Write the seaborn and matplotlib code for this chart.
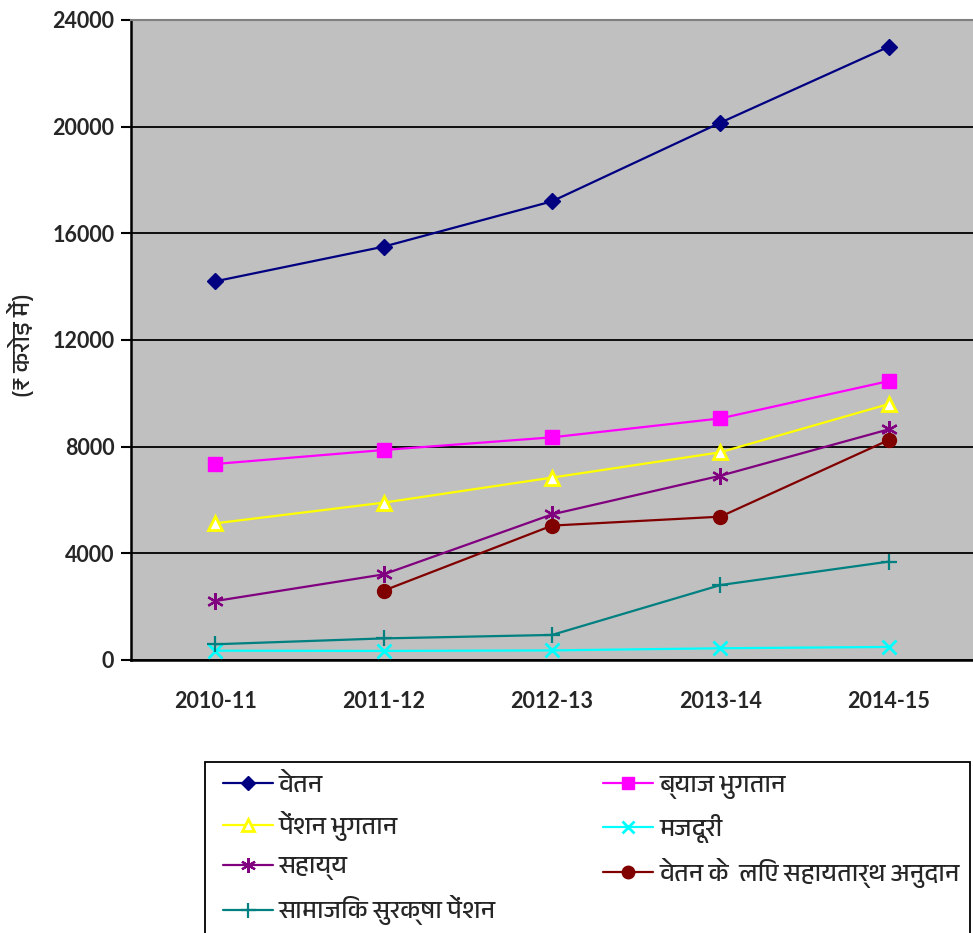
import numpy as np
import pandas as pd
import matplotlib
matplotlib.use("Agg")
import matplotlib.pyplot as plt
import seaborn as sns
from matplotlib import font_manager
from matplotlib.ft2font import FT2Font
from matplotlib.patches import Rectangle

# ---------------- data ----------------
years = ["2010-11", "2011-12", "2012-13", "2013-14", "2014-15"]
vetan = [14200, 15500, 17200, 20150, 23000]
byaj = [7350, 7875, 8350, 9060, 10460]
pension = [5125, 5900, 6840, 7790, 9600]
majduri = [350, 340, 360, 440, 490]
sahayya = [2210, 3210, 5460, 6910, 8650]
anudan = [np.nan, 2600, 5040, 5375, 8250]
samajik = [590, 810, 940, 2810, 3690]

names = ["वेतन", "ब्याज भुगतान", "पेंशन भुगतान", "मजदूरी", "सहाय्य",
         "वेतन के  लिए सहायतार्थ अनुदान", "सामाजिक सुरक्षा पेंशन"]
series = [vetan, byaj, pension, majduri, sahayya, anudan, samajik]
y_ticks = [0, 4000, 8000, 12000, 16000, 20000, 24000]
y_label = "(₹ करोड़ में)"

# ---------------- fonts ----------------
sns.set_theme(style="white")
cands = []
for fe in font_manager.fontManager.ttflist:
    try:
        if 0x0935 in FT2Font(fe.fname).get_charmap():
            cands.append(fe.name)
    except Exception:
        pass
deva = None
for c in cands:
    if "Devanagari" in c:
        deva = c
        break
if deva is None and cands:
    deva = cands[0]
fams = ["Lato"] + ([deva] if deva else []) + ["DejaVu Sans"]
deva_fams = ([deva] if deva else []) + ["DejaVu Sans"]
plt.rcParams["font.family"] = fams

styles = [
    dict(color="#000080", marker="D", markersize=8, mfc="#000080", mec="#000080"),
    dict(color="#FF00FF", marker="s", markersize=10, mfc="#FF00FF", mec="#FF00FF"),
    dict(color="#FFFF00", marker="^", markersize=10, mfc="white", mec="#FFFF00", mew=2),
    dict(color="#00FFFF", marker="x", markersize=10, mfc="#00FFFF", mec="#00FFFF", mew=2),
    dict(color="#800080", marker=(6, 2, 0), markersize=12, mfc="#800080", mec="#800080", mew=1.6),
    dict(color="#800000", marker="o", markersize=10, mfc="#800000", mec="#800000"),
    dict(color="#008080", marker="+", markersize=12, mfc="#008080", mec="#008080", mew=1.6),
]

fig = plt.figure(figsize=(9.73, 9.33), dpi=100)
ax = fig.add_axes([131 / 973, 1 - 660 / 933, (973 - 131) / 973, 640 / 933])
ax.set_facecolor("#C0C0C0")

xs = list(range(len(years)))
for name, vals, st in zip(names, series, styles):
    df = pd.DataFrame({"x": xs, "y": vals}).dropna()
    st = dict(st)
    mfc = st.pop("mfc"); mec = st.pop("mec"); mew = st.pop("mew", 1)
    sns.lineplot(data=df, x="x", y="y", ax=ax, linewidth=1.6, label=name,
                 markerfacecolor=mfc, markeredgecolor=mec, markeredgewidth=mew,
                 zorder=3, **st)

ax.set_xlim(-0.5, 4.46)
ax.set_ylim(0, 24000)
ax.set_yticks(y_ticks)
ax.set_yticklabels([str(v) for v in y_ticks], fontsize=15.5, fontweight="bold")
ax.set_xticks(xs)
ax.set_xticklabels(years, fontsize=15.5, fontweight="bold")
ax.set_xticks([i - 0.5 for i in range(len(years) + 1)], minor=True)
ax.tick_params(axis="x", which="major", length=0, pad=22)
ax.tick_params(axis="x", which="minor", length=8, width=1.5, color="black", direction="out")
ax.tick_params(axis="y", length=7, width=1.5, color="black", direction="out", pad=5, left=True)
ax.grid(axis="y", color="black", linewidth=1.3)
ax.set_axisbelow(True)
for s in ["left", "bottom"]:
    ax.spines[s].set_color("black")
    ax.spines[s].set_linewidth(1.8)
ax.spines["top"].set_color("#808080")
ax.spines["top"].set_linewidth(1.5)
ax.spines["right"].set_visible(False)
ax.set_xlabel("")
ax.set_ylabel("")
fig.text(21 / 973, 1 - 345 / 933, y_label, rotation=90, ha="center", va="center",
         fontsize=18, fontweight="bold", fontstyle="italic", family=deva_fams)

h, l = ax.get_legend_handles_labels()
ax.get_legend().remove()
order = [0, 2, 4, 6, 1, 3, 5]
leg = fig.legend([h[i] for i in order], [l[i] for i in order], ncol=2,
                 loc="upper left", bbox_to_anchor=(214 / 973, 1 - 764 / 933),
                 borderaxespad=0, frameon=False,
                 prop=dict(family=deva_fams, size=18, weight="bold"), handlelength=2.0,
                 handletextpad=0.24, labelspacing=0.6, columnspacing=4.3,
                 borderpad=0.35, markerscale=0.9)
fig.patches.append(Rectangle((205 / 973, -0.02), (970 - 205) / 973, 0.02 + (933 - 762) / 933,
                             transform=fig.transFigure, fill=False, edgecolor="black",
                             linewidth=1.3, zorder=0))

fig.savefig("out.png", dpi=100, facecolor="white")
